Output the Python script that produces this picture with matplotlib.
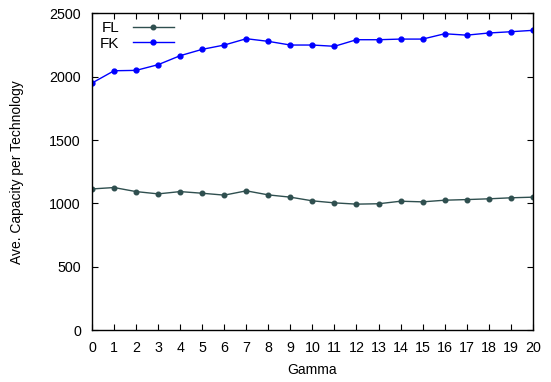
import matplotlib
matplotlib.use("Agg")
import matplotlib.pyplot as plt

plt.rcParams['font.family'] = ['Liberation Sans', 'DejaVu Sans']

gamma = list(range(21))
fl = [1114, 1125, 1093, 1075, 1093, 1080, 1065, 1099, 1067, 1049, 1020,
      1004, 994, 997, 1017, 1012, 1025, 1030, 1036, 1044, 1049]
fk = [1950, 2047, 2050, 2095, 2166, 2216, 2250, 2300, 2279, 2250, 2250,
      2240, 2292, 2292, 2297, 2297, 2339, 2328, 2345, 2355, 2366]
yticks = [0, 500, 1000, 1500, 2000, 2500]

fig = plt.figure(figsize=(5.51, 3.82), dpi=100)
ax = fig.add_axes([0.167, 0.136, 0.8, 0.829])

ax.plot(gamma, fl, color='#2f4f4f', lw=1.0, marker='o', ms=3.3, label='FL')
ax.plot(gamma, fk, color='#0000ff', lw=1.0, marker='o', ms=3.5, label='FK')

ax.set_xlim(0, 20)
ax.set_ylim(0, 2500)
ax.set_xticks(gamma)
ax.set_yticks(yticks)
ax.tick_params(direction='in', top=True, right=True, labelsize=10.3, length=4)
ax.tick_params(axis='x', pad=8)
ax.tick_params(axis='y', pad=8)
for s in ax.spines.values():
    s.set_linewidth(1.0)

ax.set_xlabel('Gamma', fontsize=10, labelpad=6)
ax.set_ylabel('Ave. Capacity per Technology', fontsize=10, labelpad=18)

ax.legend(loc='upper left', bbox_to_anchor=(0.0, 1.0), frameon=False,
          markerfirst=False, fontsize=11, handlelength=2.7,
          borderaxespad=0.1, labelspacing=0.1, handletextpad=0.9)

fig.savefig('out.png', dpi=100)
